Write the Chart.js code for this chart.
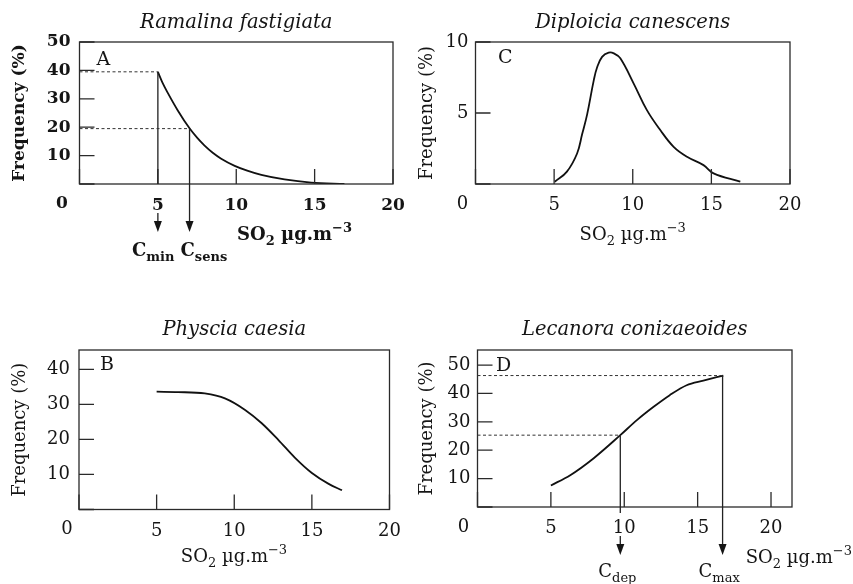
<!DOCTYPE html>
<html>
<head>
<meta charset="utf-8">
<script src="https://cdn.jsdelivr.net/npm/chart.js@4.4.1/dist/chart.umd.min.js"></script>
<style>
html,body{margin:0;padding:0;background:#fff;}
#wrap{position:relative;width:853px;height:584px;overflow:hidden;background:#fff;}
#wrap canvas{position:absolute;left:0;top:0;width:853px;height:584px;}
</style>
</head>
<body>
<div id="wrap">
<canvas id="cA" width="853" height="584"></canvas>
<canvas id="cB" width="853" height="584"></canvas>
<canvas id="cC" width="853" height="584"></canvas>
<canvas id="cD" width="853" height="584"></canvas>
</div>
<script>
// ---------------- data ----------------
const so2Ticks = [0, 5, 10, 15, 20];

// A  Ramalina fastigiata
const ramalinaSO2  = [5, 5.3, 5.64, 6.27, 7.02, 7.5, 7.98, 8.5, 9.04, 9.9, 10.7, 11.6, 13.08, 14.78, 16.9];
const ramalinaFreq = [39.5, 35.6, 32.0, 25.9, 19.6, 16.3, 13.5, 11.0, 8.9, 6.4, 4.7, 3.2, 1.6, 0.5, 0.05];
const ramalinaFreqTicks = [0, 10, 20, 30, 40, 50];
const ramalinaMarkNames = ['min', 'sens'];
const ramalinaMarkSO2   = [5, 7.02];
const ramalinaMarkFreq  = [39.5, 19.5];

// B  Physcia caesia
const physciaSO2  = [5, 6.38, 8.1, 9.4, 10.7, 11.77, 12.85, 13.9, 15.0, 16.08, 16.94];
const physciaFreq = [33.6, 33.5, 33.1, 31.7, 28.4, 24.6, 19.8, 14.8, 10.4, 7.3, 5.5];
const physciaFreqTicks = [0, 10, 20, 30, 40];

// C  Diploicia canescens
const diploiciaSO2  = [5.04, 5.8, 6.46, 6.78, 7.1, 7.52, 7.73, 8.05, 8.47, 8.8, 9.21, 10.06, 10.9, 11.75, 12.6, 13.45, 14.5, 15.14, 16.84];
const diploiciaFreq = [0.16, 0.85, 2.15, 3.5, 4.9, 7.3, 8.2, 8.95, 9.25, 9.2, 8.85, 7.07, 5.2, 3.8, 2.62, 1.92, 1.33, 0.75, 0.16];
const diploiciaFreqTicks = [0, 5, 10];

// D  Lecanora conizaeoides
const lecanoraSO2  = [5, 6.32, 7.9, 9.73, 10.86, 12.0, 13.1, 14.25, 15.39, 16.75];
const lecanoraFreq = [7.6, 11.2, 17.1, 25.3, 30.6, 35.3, 39.4, 42.9, 44.5, 46.3];
const lecanoraFreqTicks = [0, 10, 20, 30, 40, 50];
const lecanoraMarkNames = ['dep', 'max'];
const lecanoraMarkSO2   = [9.73, 16.7];
const lecanoraMarkFreq  = [25.3, 46.3];

// ---------------- drawing ----------------
const W = 853, H = 584;
const FONT = "'DejaVu Serif', 'Liberation Serif', serif";
const INK = '#151515';
const TITLE_SIZE = 19.5;

function font(size, weight, style) {
  return (style || 'normal') + ' ' + (weight || 'normal') + ' ' + size + 'px ' + FONT;
}

function drawRich(ctx, parts, x, y, align, weight) {
  let total = 0;
  parts.forEach(p => { ctx.font = font(p.size, weight); p.w = ctx.measureText(p.t).width; total += p.w; });
  let cx = align === 'center' ? x - total / 2 : align === 'right' ? x - total : x;
  ctx.textAlign = 'left';
  ctx.textBaseline = 'alphabetic';
  parts.forEach(p => {
    ctx.font = font(p.size, weight);
    ctx.fillText(p.t, cx, y + (p.dy || 0));
    cx += p.w;
  });
}

function arrowHead(ctx, x, tipY) {
  ctx.beginPath();
  ctx.moveTo(x, tipY);
  ctx.lineTo(x - 4, tipY - 11);
  ctx.lineTo(x + 4, tipY - 11);
  ctx.closePath();
  ctx.fill();
}

const decor = {
  id: 'decor',
  afterDraw(chart, args, o) {
    const {ctx, chartArea: a} = chart;
    const xs = chart.scales.x, ys = chart.scales.y;
    const wt = o.weight || 'normal';
    ctx.save();
    ctx.fillStyle = INK;
    ctx.strokeStyle = '#2a2a2a';
    // frame
    ctx.lineWidth = 1.3;
    ctx.strokeRect(a.left, a.top, a.right - a.left, a.bottom - a.top);
    // inward tick marks
    ctx.beginPath();
    xs.ticks.forEach(t => {
      const px = xs.getPixelForValue(t.value);
      ctx.moveTo(px, a.bottom); ctx.lineTo(px, a.bottom - 15);
    });
    ys.ticks.forEach(t => {
      const py = ys.getPixelForValue(t.value);
      ctx.moveTo(a.left, py); ctx.lineTo(a.left + 15, py);
    });
    ctx.stroke();
    // origin label
    ctx.font = font(o.tickSize, wt);
    ctx.textAlign = 'center';
    ctx.textBaseline = 'top';
    ctx.fillText('0', a.left - o.zeroShift, a.bottom + o.zeroPad);
    // panel letter
    ctx.font = font(19, 'normal');
    ctx.textAlign = 'left';
    ctx.textBaseline = 'alphabetic';
    ctx.fillText(o.letter, a.left + o.letterDx, a.top + o.letterDy);
    // axis unit label
    const s = o.so2;
    const sx = s.align === 'right' ? s.x : a.left + s.dx;
    drawRich(ctx, [
      {t: 'SO', size: 18}, {t: '2', size: 13, dy: 5},
      {t: ' \u00b5g.m', size: 18}, {t: '\u22123', size: 13, dy: -8}
    ], sx, a.bottom + s.dy, s.align, wt);
    // marks: dashed guide, vertical line, arrow, label
    (o.marks || []).forEach((m, i) => {
      const px = xs.getPixelForValue(m.so2);
      const py = ys.getPixelForValue(m.freq);
      ctx.save();
      ctx.lineWidth = 1;
      ctx.strokeStyle = '#333';
      ctx.setLineDash([3, 2.5]);
      ctx.beginPath(); ctx.moveTo(a.left, py); ctx.lineTo(px, py); ctx.stroke();
      ctx.restore();
      ctx.lineWidth = 1.3;
      ctx.strokeStyle = '#222';
      const tip = a.bottom + 48;
      ctx.beginPath();
      if (m.split) {
        ctx.moveTo(px, py); ctx.lineTo(px, a.bottom + o.splitEnd);
        ctx.moveTo(px, a.bottom + 29); ctx.lineTo(px, tip - 8);
      } else {
        ctx.moveTo(px, py); ctx.lineTo(px, tip - 8);
      }
      ctx.stroke();
      arrowHead(ctx, px, tip);
      drawRich(ctx, [{t: 'C', size: 18}, {t: m.name, size: 13, dy: 5}],
        px + m.labelDx, a.bottom + o.labelDy, 'left', wt);
    });
    ctx.restore();
  }
};

function panel(id, o) {
  const yTitleLH = o.yTitleSize * 1.2;
  const titleLH = TITLE_SIZE * 1.2;
  const padLeft = o.yTitleX - yTitleLH / 2;
  const padTop = o.titleMid - titleLH / 2;
  const xH = 34;
  const wt = o.weight || 'normal';
  return new Chart(document.getElementById(id), {
    type: 'line',
    data: {
      datasets: [{
        label: o.title,
        data: o.so2.map((v, i) => ({x: v, y: o.freq[i]})),
        borderColor: '#111',
        borderWidth: 1.8,
        pointRadius: 0,
        fill: false,
        cubicInterpolationMode: o.interp || 'monotone',
        tension: 0.4
      }]
    },
    options: {
      responsive: false,
      animation: false,
      events: [],
      devicePixelRatio: 1,
      layout: {padding: {left: padLeft, right: W - o.box.R, top: padTop, bottom: H - o.box.B - xH}},
      plugins: {
        legend: {display: false},
        tooltip: {enabled: false},
        title: {
          display: true, text: o.title, fullSize: false, color: INK,
          font: {family: FONT, size: TITLE_SIZE, style: 'italic', weight: 'normal', lineHeight: 1.2},
          padding: {top: 0, bottom: o.box.T - padTop - titleLH}
        },
        decor: Object.assign({tickSize: o.tickSize, zeroPad: 11, weight: wt}, o.decor)
      },
      scales: {
        x: {
          type: 'linear', min: 0, max: o.xMax,
          grid: {display: false, drawTicks: false}, border: {display: false},
          afterBuildTicks: s => { s.ticks = o.xTicks.map(v => ({value: v})); },
          afterFit: s => { s.height = xH; },
          ticks: {padding: o.xPad, color: INK, autoSkip: false, maxRotation: 0,
                  font: {family: FONT, size: o.tickSize, weight: wt},
                  callback: v => v === 0 ? '' : String(v)}
        },
        y: {
          type: 'linear', min: 0, max: o.yMax,
          grid: {display: false, drawTicks: false}, border: {display: false},
          afterBuildTicks: s => { s.ticks = o.yTicks.map(v => ({value: v})); },
          afterFit: s => { s.width = o.box.L - padLeft; },
          ticks: {padding: o.yPad, color: INK, font: {family: FONT, size: o.tickSize, weight: wt},
                  callback: v => v === 0 ? '' : String(v)},
          title: {display: true, text: 'Frequency (%)', color: INK,
                  font: {family: FONT, size: o.yTitleSize, weight: wt, lineHeight: 1.2},
                  padding: {top: 0, bottom: 0}}
        }
      }
    },
    plugins: [decor]
  });
}

panel('cA', {
  title: 'Ramalina fastigiata', so2: ramalinaSO2, freq: ramalinaFreq,
  xTicks: so2Ticks, yTicks: ramalinaFreqTicks, xMax: 20, yMax: 50,
  box: {L: 79.5, R: 393, T: 42, B: 184}, titleMid: 23, yTitleX: 20, yTitleSize: 17,
  tickSize: 17, weight: 'bold', xPad: 11, yPad: 9,
  decor: {
    letter: 'A', letterDx: 17, letterDy: 23, zeroShift: 17.5, splitEnd: 0, labelDy: 72,
    so2: {align: 'left', dx: 157.5, dy: 56},
    marks: ramalinaMarkNames.map((n, i) => ({name: n, so2: ramalinaMarkSO2[i], freq: ramalinaMarkFreq[i],
      split: i === 0, labelDx: i === 0 ? -26 : -9}))
  }
});

panel('cC', {
  title: 'Diploicia canescens', so2: diploiciaSO2, freq: diploiciaFreq, interp: 'default',
  xTicks: so2Ticks, yTicks: diploiciaFreqTicks, xMax: 20, yMax: 10,
  box: {L: 475.5, R: 790, T: 42, B: 184}, titleMid: 23, yTitleX: 427, yTitleSize: 18,
  tickSize: 18, xPad: 11, yPad: 7,
  decor: {letter: 'C', letterDx: 22.5, letterDy: 21, zeroShift: 13,
    so2: {align: 'center', dx: 157.25, dy: 56}}
});

panel('cB', {
  title: 'Physcia caesia', so2: physciaSO2, freq: physciaFreq,
  xTicks: so2Ticks, yTicks: physciaFreqTicks, xMax: 20, yMax: 45.5,
  box: {L: 79, R: 389.5, T: 350, B: 509.5}, titleMid: 330, yTitleX: 20, yTitleSize: 18,
  tickSize: 18, xPad: 11, yPad: 9,
  decor: {letter: 'B', letterDx: 21, letterDy: 20, zeroShift: 12,
    so2: {align: 'center', dx: 155, dy: 52}}
});

panel('cD', {
  title: 'Lecanora conizaeoides', so2: lecanoraSO2, freq: lecanoraFreq,
  xTicks: so2Ticks, yTicks: lecanoraFreqTicks, xMax: 21.43, yMax: 55.3,
  box: {L: 477.5, R: 792, T: 350, B: 507}, titleMid: 330, yTitleX: 427, yTitleSize: 18,
  tickSize: 18, xPad: 11, yPad: 7,
  decor: {
    letter: 'D', letterDx: 18.5, letterDy: 21, zeroShift: 14, splitEnd: 6, labelDy: 70,
    so2: {align: 'right', x: 852, dy: 56},
    marks: lecanoraMarkNames.map((n, i) => ({name: n, so2: lecanoraMarkSO2[i], freq: lecanoraMarkFreq[i],
      split: i === 0, labelDx: i === 0 ? -22 : -24}))
  }
});
</script>
</body>
</html>
